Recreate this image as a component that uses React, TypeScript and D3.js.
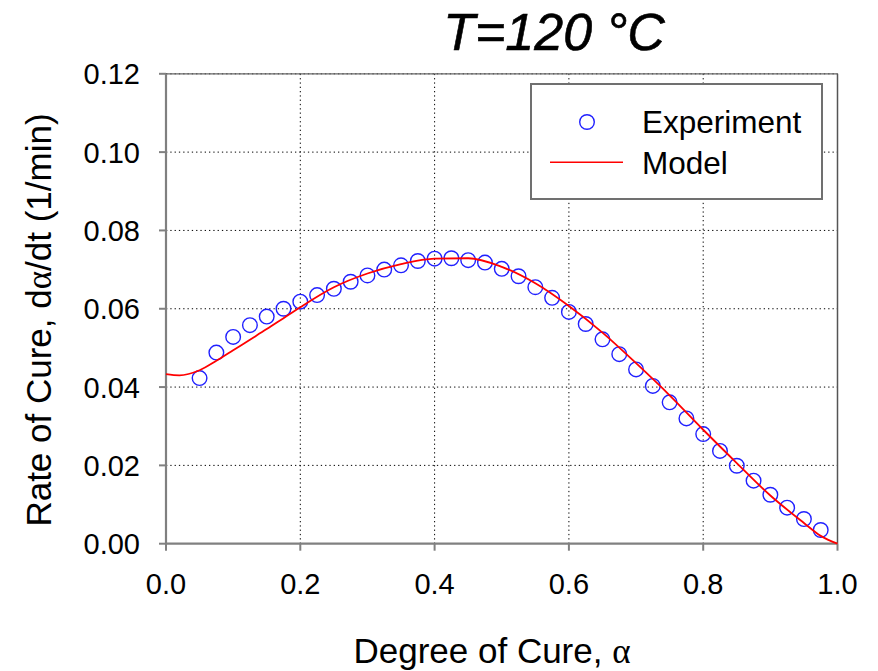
import React from "react";
import * as d3 from "d3";

const expAlpha = [0.05, 0.075, 0.1, 0.125, 0.15, 0.175, 0.2, 0.225, 0.25, 0.275, 0.3, 0.325, 0.35, 0.375, 0.4, 0.425, 0.45, 0.475, 0.5, 0.525, 0.55, 0.575, 0.6, 0.625, 0.65, 0.675, 0.7, 0.725, 0.75, 0.775, 0.8, 0.825, 0.85, 0.875, 0.9, 0.925, 0.95, 0.975];
const expRate = [0.0423, 0.0488, 0.0528, 0.0558, 0.058, 0.06, 0.0618, 0.0635, 0.0651, 0.0669, 0.0685, 0.07, 0.0711, 0.0722, 0.0728, 0.0729, 0.0724, 0.0718, 0.0702, 0.0683, 0.0655, 0.0628, 0.0592, 0.0561, 0.0522, 0.0484, 0.0445, 0.0403, 0.0361, 0.032, 0.028, 0.0237, 0.0199, 0.0161, 0.0125, 0.0092, 0.0063, 0.0035];

const modelAlpha = [0.0, 0.02, 0.05, 0.075, 0.1, 0.125, 0.15, 0.175, 0.2, 0.25, 0.3, 0.35, 0.4, 0.45, 0.5, 0.55, 0.6, 0.65, 0.7, 0.75, 0.8, 0.85, 0.9, 0.95, 0.975, 1.0];
const modelRate = [0.0433, 0.043, 0.0443, 0.0467, 0.0494, 0.0521, 0.0548, 0.0576, 0.0604, 0.0655, 0.069, 0.0714, 0.0728, 0.0729, 0.0707, 0.0665, 0.0607, 0.0539, 0.0461, 0.0379, 0.0291, 0.0206, 0.0123, 0.0053, 0.002, 0.0];

const xTicks = [0.0, 0.2, 0.4, 0.6, 0.8, 1.0];
const yTicks = [0.0, 0.02, 0.04, 0.06, 0.08, 0.1, 0.12];

const W = 878;
const H = 671;
const L = 166, R = 837.5, T = 73.8, B = 543.7;
const FONT = "'Liberation Sans', Arial, sans-serif";
const SERIF = "'Liberation Serif', 'DejaVu Serif', serif";

export default function App() {
  const x = d3.scaleLinear().domain([0, 1]).range([L, R]);
  const y = d3.scaleLinear().domain([0, 0.12]).range([B, T]);
  const line = d3
    .line<number>()
    .x((_, i) => x(modelAlpha[i]))
    .y((d) => y(d))
    .curve(d3.curveMonotoneX);
  const grey = "#808080";

  return (
    <svg width={W} height={H} style={{ position: "absolute", left: 0, top: 0, background: "#fff" }} fontFamily={FONT}>
      <rect x={0} y={0} width={W} height={H} fill="#fff" />
      {/* grid */}
      {xTicks.filter((t) => t > 0 && t < 1).map((t) => (
        <line key={"gx" + t} x1={x(t)} x2={x(t)} y1={T} y2={B} stroke="#000" strokeWidth={1} strokeDasharray="1.3,3" />
      ))}
      {yTicks.filter((t) => t > 0).map((t) => (
        <line key={"gy" + t} x1={L} x2={R} y1={y(t)} y2={y(t)} stroke="#000" strokeWidth={1} strokeDasharray="1.3,3" />
      ))}
      {/* frame */}
      <line x1={L} x2={R} y1={T} y2={T} stroke="#666" strokeWidth={1.2} />
      <line x1={R} x2={R} y1={T} y2={B} stroke="#555" strokeWidth={1.5} />
      <line x1={L} x2={L} y1={T} y2={B + 1} stroke={grey} strokeWidth={2.2} />
      <line x1={L - 1} x2={R} y1={B} y2={B} stroke={grey} strokeWidth={2.2} />
      {/* ticks */}
      {yTicks.map((t) => (
        <g key={"ty" + t}>
          <line x1={L - 7} x2={L} y1={y(t)} y2={y(t)} stroke={grey} strokeWidth={2} />
          <text x={140} y={y(t)} dy="0.36em" textAnchor="end" fontSize={29} fill="#000">
            {t.toFixed(2)}
          </text>
        </g>
      ))}
      {xTicks.map((t) => (
        <g key={"tx" + t}>
          <line x1={x(t)} x2={x(t)} y1={B} y2={B + 7} stroke={grey} strokeWidth={2} />
          <text x={x(t)} y={594} textAnchor="middle" fontSize={29} fill="#000">
            {t.toFixed(1)}
          </text>
        </g>
      ))}
      {/* data */}
      {expAlpha.map((a, i) => (
        <circle key={"c" + i} cx={x(a)} cy={y(expRate[i])} r={7.3} fill="none" stroke="#2020ff" strokeWidth={1.4} />
      ))}
      <path d={line(modelRate) || ""} fill="none" stroke="#ff0000" strokeWidth={1.8} />
      {/* legend */}
      <rect x={531} y={84} width={291} height={115} fill="#fff" stroke="#707070" strokeWidth={2} />
      <circle cx={587} cy={122} r={7.3} fill="none" stroke="#2020ff" strokeWidth={1.4} />
      <text x={642} y={133} fontSize={31.5} fill="#000">Experiment</text>
      <line x1={550} x2={623} y1={162.3} y2={162.3} stroke="#ff0000" strokeWidth={1.5} />
      <text x={642} y={174} fontSize={31.5} fill="#000">Model</text>
      {/* title */}
      <text x={554} y={50} textAnchor="middle" fontSize={52} fontStyle="italic" fill="#000" stroke="#000" strokeWidth={0.6}>
        T=120 °C
      </text>
      {/* axis labels */}
      <text x={492} y={663} textAnchor="middle" fontSize={35} fill="#000">
        Degree of Cure, <tspan fontFamily={SERIF}>α</tspan>
      </text>
      <text transform={`translate(51,${320}) rotate(-90)`} textAnchor="middle" fontSize={35} fill="#000">
        Rate of Cure, d<tspan fontFamily={SERIF}>α</tspan>/dt (1/min)
      </text>
    </svg>
  );
}
